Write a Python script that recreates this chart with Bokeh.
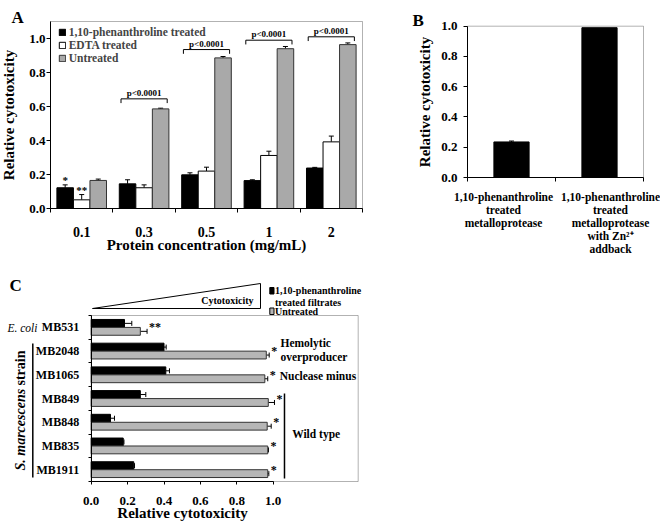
import numpy as np
from bokeh.plotting import figure
from bokeh.models import (ColumnDataSource, FixedTicker, Whisker, TeeHead, Label,
                          Legend, LegendItem, BoxAnnotation, Range1d, NumeralTickFormatter)
from bokeh.layouts import column, row
from bokeh.embed import file_html
from bokeh.resources import INLINE
from bokeh.core.properties import value

FONT = "Liberation Serif"

# ---------------- Panel A data ----------------
conc_labels = ["0.1", "0.3", "0.5", "1", "2"]
phen_vals = [0.122, 0.145, 0.198, 0.164, 0.238]
phen_err = [0.017, 0.024, 0.012, 0.005, 0.004]
edta_vals = [0.051, 0.122, 0.220, 0.312, 0.392]
edta_err = [0.031, 0.017, 0.023, 0.025, 0.034]
untr_vals = [0.165, 0.586, 0.886, 0.940, 0.964]
untr_err = [0.008, 0.004, 0.008, 0.013, 0.010]
phen_marks = ["*", "", "", "", ""]
edta_marks = ["**", "", "", "", ""]
p_text = ["", "p<0.0001", "p<0.0001", "p<0.0001", "p<0.0001"]
bracket_y = [0.0, 0.645, 0.935, 0.99, 1.01]
a_series = ["1,10-phenanthroline treated", "EDTA treated", "Untreated"]

# ---------------- Panel B data ----------------
b_labels = ["1,10-phenanthroline\ntreated\nmetalloprotease",
            "1,10-phenanthroline\ntreated\nmetalloprotease\nwith Zn\u00b2\u207a\naddback"]
b_vals = [0.235, 0.99]
b_err = [0.006, 0.0]

# ---------------- Panel C data ----------------
strains = ["MB531", "MB2048", "MB1065", "MB849", "MB848", "MB835", "MB1911"]
c_phen = [0.183, 0.400, 0.410, 0.270, 0.106, 0.176, 0.234]
c_phen_err = [0.040, 0.012, 0.020, 0.030, 0.022, 0.004, 0.004]
c_untr = [0.270, 0.962, 0.954, 0.973, 0.967, 0.970, 0.970]
c_untr_err = [0.037, 0.016, 0.016, 0.034, 0.022, 0.004, 0.006]
c_stars = ["**", "*", "*", "*", "*", "*", "*"]
c_series = ["1,10-phenanthroline", "treated filtrates", "Untreated"]

GREY_A = "#a9a9a9"
GREY_C = "#b6b6b6"
Y_TICKS = [0.0, 0.2, 0.4, 0.6, 0.8, 1.0]


def mapper(W, H, L, R, T, B, x0, x1, y0, y1):
    """Ranges so that data box (x0..x1, y0..y1) lands on canvas pixels L..R, T..B."""
    sx = (R - L) / (x1 - x0)
    sy = (B - T) / (y1 - y0)
    xr = Range1d(x0 - L / sx, x1 + (W - R) / sx)
    yr = Range1d(y0 - (H - B) / sy, y1 + T / sy)
    return xr, yr, (lambda px: x0 + (px - L) / sx), (lambda py: y0 + (B - py) / sy)


def make_fig(W, H, xr, yr, box):
    p = figure(width=W, height=H, x_range=xr, y_range=yr, output_backend="svg",
               toolbar_location=None, title=None, min_border_left=0, min_border_right=0,
               min_border_top=0, min_border_bottom=0)
    p.xgrid.visible = False
    p.ygrid.visible = False
    p.outline_line_color = None
    p.background_fill_color = "white"
    p.border_fill_color = "white"
    for ax in p.axis:
        ax.axis_line_color = "black"
        ax.major_tick_line_color = "black"
        ax.minor_tick_line_color = "black"
        ax.major_tick_in = 0
        ax.minor_tick_in = 0
        ax.major_label_text_font = FONT
        ax.major_label_text_font_style = "bold"
        ax.major_label_text_color = "black"
        ax.axis_label_text_font = FONT
        ax.axis_label_text_font_style = "bold"
        ax.axis_label_text_color = "black"
    p.xaxis.fixed_location = box[2]
    p.yaxis.fixed_location = box[0]
    p.add_layout(BoxAnnotation(left=box[0], right=box[1], bottom=box[2], top=box[3],
                               fill_color=None, line_color="black", line_width=1))
    return p


def lab(p, x, y, text, size, align="left", baseline="middle", fstyle="bold", angle=0.0):
    p.add_layout(Label(x=x, y=y, text=text, text_font=FONT, text_font_size=size,
                       text_font_style=fstyle, text_align=align, text_baseline=baseline,
                       text_color="black", angle=angle))


def whisk(p, src, base, lower, upper, dim, size=5):
    p.add_layout(Whisker(source=src, base=base, lower=lower, upper=upper, dimension=dim,
                         line_color="black", line_width=1,
                         upper_head=TeeHead(size=size, line_color="black", line_width=1),
                         lower_head=None))


def glyph_text(p, xs, ys, texts, size, align="center", baseline="bottom",
               fstyle="bold", xo=0, yo=0):
    keep = [i for i, t in enumerate(texts) if t]
    src = ColumnDataSource(dict(x=[xs[i] for i in keep], y=[ys[i] for i in keep],
                                t=[texts[i] for i in keep]))
    p.text(x="x", y="y", text="t", source=src, text_font=value(FONT),
           text_font_size=size, text_font_style=fstyle, text_align=align,
           text_baseline=baseline, text_color="black", x_offset=xo, y_offset=yo)


# ================= Panel A =================
n = len(conc_labels)
xc = np.arange(n) + 0.5
off = 0.265
WA, HA = 380, 266
xrA, yrA, fxA, fyA = mapper(WA, HA, 50, 362, 21, 208, 0, n, 0, 1.1)
pA = make_fig(WA, HA, xrA, yrA, (0, n, 0, 1.1))

rends = []
for shift, vals, errs, fc, lc in [(-off, phen_vals, phen_err, "black", "black"),
                                  (0.0, edta_vals, edta_err, "white", "black"),
                                  (off, untr_vals, untr_err, GREY_A, "#333333")]:
    s = ColumnDataSource(dict(x=xc + shift, top=vals, up=np.add(vals, errs)))
    rends.append(pA.vbar(x="x", top="top", width=off, source=s, fill_color=fc,
                         line_color=lc, line_width=1))
    whisk(pA, s, "x", "top", "up", "height", 5)

bxs, bys, btx, bty, btt = [], [], [], [], []
half, drop = 0.37, 0.025
for i in range(n):
    if p_text[i]:
        x0, x1, yb = xc[i] - half, xc[i] + half, bracket_y[i]
        bxs.append([x0, x0, x1, x1])
        bys.append([yb - drop, yb, yb, yb - drop])
        btx.append(xc[i]); bty.append(yb); btt.append(p_text[i])
pA.multi_line(xs=bxs, ys=bys, line_color="black", line_width=1)
glyph_text(pA, btx, bty, btt, "9px", yo=-1)
glyph_text(pA, list(xc - off), list(np.add(phen_vals, phen_err)), phen_marks, "11px",
           fstyle="bold", yo=1)
glyph_text(pA, list(xc), list(np.add(edta_vals, edta_err)), edta_marks, "11px",
           fstyle="bold", yo=1)

pA.yaxis.ticker = FixedTicker(ticks=Y_TICKS)
pA.yaxis.formatter = NumeralTickFormatter(format="0.0")
pA.yaxis.bounds = (0, 1.1)
pA.yaxis.major_tick_out = 4
pA.yaxis.major_label_standoff = 1
pA.yaxis.major_label_text_font_size = "13px"
pA.yaxis.axis_label = "Relative cytotoxicity"
pA.yaxis.axis_label_standoff = 9
pA.yaxis.axis_label_text_font_size = "15px"

pA.xaxis.ticker = FixedTicker(ticks=list(xc), minor_ticks=list(range(n + 1)))
pA.xaxis.major_label_overrides = {float(x): l for x, l in zip(xc, conc_labels)}
pA.xaxis.bounds = (0, n)
pA.xaxis.major_tick_out = 0
pA.xaxis.minor_tick_out = 4
pA.xaxis.major_label_standoff = 14
pA.xaxis.major_label_text_font_size = "14px"
pA.xaxis.axis_label = "Protein concentration (mg/mL)"
pA.xaxis.axis_label_standoff = -3
pA.xaxis.axis_label_text_font_size = "15px"

legA = Legend(items=[LegendItem(label=a_series[k], renderers=[rends[k]]) for k in range(3)],
              location=(57.7, HA - 64.2), label_text_font=FONT, label_text_font_style="bold",
              label_text_font_size="11.5px", glyph_width=8, glyph_height=8,
              label_height=13, label_standoff=3, spacing=0, padding=0, margin=0,
              border_line_color=None, background_fill_alpha=0.0)
pA.add_layout(legA)
lab(pA, fxA(11), fyA(17), "A", "17px", baseline="alphabetic")

# ================= Panel B =================
nb = len(b_vals)
xb = np.arange(nb) + 0.5
WB, HB = 280, 266
xrB, yrB, fxB, fyB = mapper(WB, HB, 87, 263, 25.7, 177, 0, nb, 0, 1.0)
pB = make_fig(WB, HB, xrB, yrB, (0, nb, 0, 1.0))
sB = ColumnDataSource(dict(x=xb, top=b_vals, up=np.add(b_vals, b_err)))
pB.vbar(x="x", top="top", width=0.4, source=sB, fill_color="black", line_color="black")
whisk(pB, ColumnDataSource(dict(x=xb[:1], top=b_vals[:1], up=[b_vals[0] + b_err[0]])),
      "x", "top", "up", "height", 5)
pB.yaxis.ticker = FixedTicker(ticks=Y_TICKS)
pB.yaxis.formatter = NumeralTickFormatter(format="0.0")
pB.yaxis.bounds = (0, 1.0)
pB.yaxis.major_tick_out = 4
pB.yaxis.major_label_standoff = 6
pB.yaxis.major_label_text_font_size = "13px"
pB.yaxis.axis_label = "Relative cytotoxicity"
pB.yaxis.axis_label_standoff = 5
pB.yaxis.axis_label_text_font_size = "15px"
# category labels sit a little apart from the bar centres (as in the original figure)
b_label_pos = [fxB(503 - 380), fxB(610 - 380)]
pB.xaxis.ticker = FixedTicker(ticks=b_label_pos, minor_ticks=list(range(nb + 1)))
pB.xaxis.major_label_overrides = {float(x): l for x, l in zip(b_label_pos, b_labels)}
pB.xaxis.bounds = (0, nb)
pB.xaxis.major_tick_out = 0
pB.xaxis.minor_tick_out = 4
pB.xaxis.major_label_standoff = 9
pB.xaxis.major_label_text_font_size = "11.5px"
pB.xaxis.major_label_text_line_height = 1.1
lab(pB, fxB(32), fyB(20), "B", "17px", baseline="alphabetic")

# ================= Panel C =================
m = len(strains)
yc = m - 0.5 - np.arange(m)
hoff, bh = 0.168, 0.33
XMAX_C = 1.467
WC, HC = 370, 262
xrC, yrC, fxC, fyC = mapper(WC, HC, 90.7, 357.7, 49, 215, 0, XMAX_C, 0, m)
pC = make_fig(WC, HC, xrC, yrC, (0, XMAX_C, 0, m))
sCp = ColumnDataSource(dict(y=yc + hoff, right=c_phen, hi=np.add(c_phen, c_phen_err)))
sCu = ColumnDataSource(dict(y=yc - hoff, right=c_untr, hi=np.add(c_untr, c_untr_err)))
pC.hbar(y="y", left=0, right="right", height=bh, source=sCp, fill_color="black",
        line_color="black")
pC.hbar(y="y", left=0, right="right", height=bh, source=sCu, fill_color=GREY_C,
        line_color="#333333")
whisk(pC, sCp, "y", "right", "hi", "width", 5)
whisk(pC, sCu, "y", "right", "hi", "width", 5)
glyph_text(pC, list(np.add(c_untr, c_untr_err)), list(yc), c_stars, "12px",
           align="left", baseline="middle", fstyle="bold", xo=2)

pC.xaxis.ticker = FixedTicker(ticks=Y_TICKS)
pC.xaxis.formatter = NumeralTickFormatter(format="0.0")
pC.xaxis.bounds = (0, 1.0)
pC.xaxis.major_tick_out = 3
pC.xaxis.major_label_standoff = 12
pC.xaxis.major_label_text_font_size = "13px"
pC.xaxis.axis_label = "Relative cytotoxicity"
pC.xaxis.axis_label_standoff = -3
pC.xaxis.axis_label_text_font_size = "15px"
pC.yaxis.ticker = FixedTicker(ticks=list(yc), minor_ticks=list(range(m + 1)))
pC.yaxis.major_label_overrides = {float(y): s for y, s in zip(yc, strains)}
pC.yaxis.bounds = (0, m)
pC.yaxis.major_tick_out = 0
pC.yaxis.minor_tick_out = 3
pC.yaxis.major_label_standoff = 9
pC.yaxis.major_label_text_font_size = "12px"

# annotations inside the box
lab(pC, 1.04, 5.86, "Hemolytic", "11.5px")
lab(pC, 1.04, 5.23, "overproducer", "11.5px")
lab(pC, 1.036, 4.44, "Nuclease minus", "11.5px")
pC.segment(x0=[1.062], y0=[0.13], x1=[1.062], y1=[3.71], line_color="black", line_width=1.5)
lab(pC, 1.104, 2.02, "Wild type", "11.5px")

# annotations around the box (positions given in canvas pixels)
lab(pC, fxC(9), fyC(19), "C", "17px", baseline="alphabetic")
lab(pC, fxC(37), fyC(61), "E. coli", "11.5px", align="right", fstyle="italic")
pC.segment(x0=[fxC(32.3)], y0=[fyC(77)], x1=[fxC(32.3)], y1=[fyC(211)],
           line_color="black", line_width=1.5)
lab(pC, fxC(20), fyC(204), "S. marcescens", "14px", fstyle="bold italic", angle=np.pi / 2)
lab(pC, fxC(20), fyC(84), "strain", "14px", align="right", angle=np.pi / 2)
pC.patch(x=[fxC(92), fxC(260), fxC(260)], y=[fyC(42), fyC(17), fyC(42)],
         fill_color=None, line_color="black", line_width=1)
lab(pC, fxC(253), fyC(34), "Cytotoxicity", "10px", align="right")
pC.patches(xs=[[fxC(269.3), fxC(273.5), fxC(273.5), fxC(269.3)]] * 2,
           ys=[[fyC(21), fyC(21), fyC(27.5), fyC(27.5)],
               [fyC(41.5), fyC(41.5), fyC(48), fyC(48)]],
           fill_color=["black", GREY_C], line_color="black", line_width=1)
lab(pC, fxC(274.5), fyC(24), c_series[0], "10px")
lab(pC, fxC(274.5), fyC(35.7), c_series[1], "10px")
lab(pC, fxC(274.5), fyC(44.7), c_series[2], "10px")

layout = column(row(pA, pB), pC)
open("out.html", "w").write(file_html(layout, INLINE))
